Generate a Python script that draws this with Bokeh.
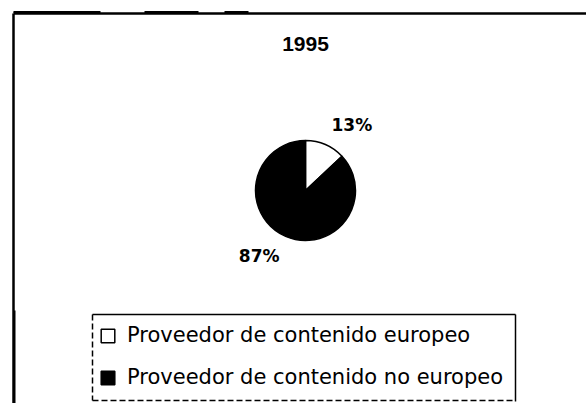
import numpy as np
from bokeh.plotting import figure
from bokeh.models import Range1d, ColumnDataSource, Legend, LegendItem
from bokeh.core.properties import value
from bokeh.embed import file_html
from bokeh.resources import INLINE

# ---- data ----
chart_title = "1995"
categories = ["Proveedor de contenido europeo", "Proveedor de contenido no europeo"]
shares = [13, 87]
slice_colors = ["white", "black"]

# ---- canvas: 1 data unit = 1 px, y grows downward as negative ----
W, H = 586, 403
p = figure(width=W, height=H, x_range=Range1d(0, W), y_range=Range1d(-H, 0),
           output_backend="svg", toolbar_location=None, min_border=0,
           x_axis_type=None, y_axis_type=None)
p.grid.visible = False
p.outline_line_color = None
p.background_fill_color = "white"
p.border_fill_color = "white"

# outer frame (scanned page border)
p.segment(x0=[13, 13], y0=[-13, -13], x1=[586, 13], y1=[-13, -403],
          line_color="black", line_width=2.5)
# scan thickening of the frame
p.segment(x0=[13, 144, 224, 14], y0=[-11.5, -11.5, -11.5, -310],
          x1=[100, 198, 248, 14], y1=[-11.5, -11.5, -11.5, -403],
          line_color="black", line_width=2)

# legend frame (solid top/right, broken left/bottom as in the scan)
p.segment(x0=[92, 515], y0=[-314, -314], x1=[515, 515], y1=[-314, -401],
          line_color="black", line_width=1.5)
p.segment(x0=[92, 92], y0=[-314, -400], x1=[92, 515], y1=[-400, -400],
          line_color="black", line_width=1.5, line_dash="6 3")

# ---- pie ----
cx, cy, r = 305, -190, 50
frac = np.array(shares, dtype=float) / sum(shares)
cum = np.concatenate([[0.0], np.cumsum(frac)])
start = np.pi / 2 - 2 * np.pi * cum[1:]
end = np.pi / 2 - 2 * np.pi * cum[:-1]
mid = (start + end) / 2

src = ColumnDataSource(dict(
    cat=categories, share=shares, start=start, end=end, color=slice_colors,
    label=[f"{s}%" for s in shares],
    lx=cx + 80 * np.cos(mid - np.radians(12)),
    ly=cy + 80 * np.sin(mid - np.radians(12)),
))

wr = p.wedge(x=cx, y=cy, radius=r, start_angle="start", end_angle="end",
             fill_color="color", line_color="black", line_width=1.5, source=src)

p.text(x="lx", y="ly", text="label", source=src, text_font=value("DejaVu Sans"),
       text_font_style="bold", text_font_size="17px", text_align="center",
       text_baseline="middle", text_color="black")

p.text(x=[cx], y=[-43], text=[chart_title], text_font=value("Liberation Sans"),
       text_font_style="bold", text_font_size="21px", text_align="center",
       text_baseline="middle", text_color="black")

legend = Legend(items=[LegendItem(label=categories[i], renderers=[wr], index=i)
                       for i in range(len(categories))],
                location=(88, 3), orientation="vertical",
                label_text_font="DejaVu Sans", label_text_font_size="21px",
                label_text_color="black",
                glyph_width=17, glyph_height=17, label_standoff=11,
                label_height=22, padding=11, spacing=18, margin=0,
                border_line_alpha=0,
                background_fill_alpha=0)
p.add_layout(legend)

open("out.html", "w").write(file_html(p, INLINE))
